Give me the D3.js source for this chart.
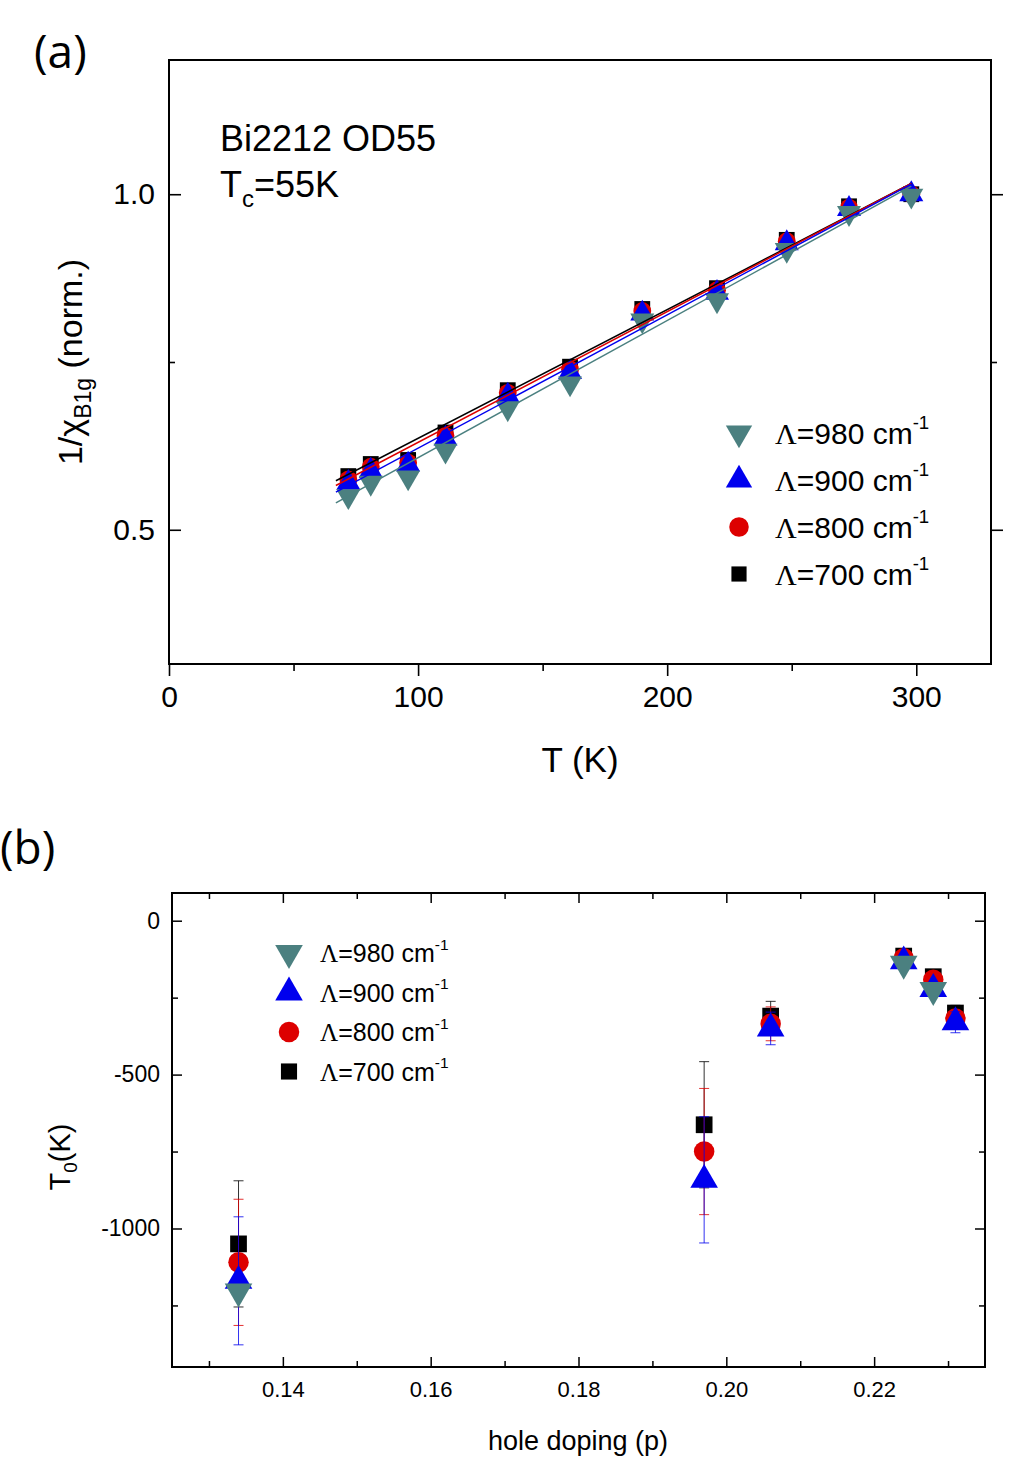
<!DOCTYPE html>
<html>
<head>
<meta charset="utf-8">
<script src="https://cdn.jsdelivr.net/npm/d3@7"></script>
<style>
  body { margin: 0; background: #fff; }
  svg { display: block; font-family: "Liberation Sans", Arial, sans-serif; }
</style>
</head>
<body>
<svg id="chart" width="1026" height="1477"></svg>
<script>
// panel (a): 1/chi_B1g vs T, four cutoffs
const tempK = [72, 81, 96, 111, 136, 161, 190, 220, 248, 273, 298];
const chi700 = [0.580, 0.598, 0.604, 0.645, 0.708, 0.743, 0.829, 0.860, 0.932, 0.982, 1.000];
const chi800 = [0.575, 0.594, 0.600, 0.640, 0.704, 0.739, 0.826, 0.857, 0.930, 0.980, 1.000];
const chi900 = [0.570, 0.588, 0.597, 0.636, 0.700, 0.735, 0.822, 0.853, 0.927, 0.978, 1.000];
const chi980 = [0.550, 0.570, 0.578, 0.618, 0.681, 0.718, 0.812, 0.842, 0.917, 0.972, 0.998];
// linear fit lines, end values
const fitT = [67, 298];
const fit700 = [0.573, 1.016];
const fit800 = [0.566, 1.016];
const fit900 = [0.556, 1.015];
const fit980 = [0.540, 1.012];
const aTicksX = [0, 100, 200, 300];
const aTicksY = [0.5, 1.0];

// panel (b): T0 vs hole doping
const doping = [0.134, 0.197, 0.206, 0.224, 0.228, 0.231];
const t0_700 = [-1050, -663, -310, -115, -182, -300];
const t0_800 = [-1110, -750, -335, -122, -192, -318];
const t0_900 = [-1170, -842, -350, -132, -222, -330];
const t0_980 = [-1205, null, null, -140, -225, null];
const err700 = [205, 205, 48, 15, 15, 25];
const err800 = [205, 205, 55, 15, 15, 25];
const err900 = [208, 205, 53, 15, 15, 34];
const bTicksX = [0.14, 0.16, 0.18, 0.20, 0.22];
const bTicksY = [0, -500, -1000];

const legendLabels = ['980', '900', '800', '700'];

const FONT = '"Liberation Sans", Arial, sans-serif';
const TEAL = '#4b8080';
const series = {
    '700': { color: '#000000', symbol: d3.symbolSquare, rot: 0 },
    '800': { color: '#dd0000', symbol: d3.symbolCircle, rot: 0 },
    '900': { color: '#0000ee', symbol: d3.symbolTriangle, rot: 0 },
    '980': { color: TEAL, symbol: d3.symbolTriangle, rot: 180 }
};

const svg = d3.select('#chart');
const hyphen = f => d => f(d).replace('\u2212', '-');

function marker(g, key, x, y, size) {
    const s = series[key];
    g.append('path')
        .attr('d', d3.symbol().type(s.symbol).size(size)())
        .attr('transform', `translate(${x},${y}) rotate(${s.rot})`)
        .attr('fill', s.color);
}

function legendEntry(g, key, x, y, fs, size, gap) {
    marker(g, key, x, y, size);
    const t = g.append('text')
        .attr('x', x + gap).attr('y', y + fs * 0.36)
        .attr('font-size', fs);
    t.append('tspan').attr('font-family', '"Liberation Serif", serif').text('\u039B');
    t.append('tspan').text('=' + key + ' cm');
    t.append('tspan').attr('font-size', fs * 0.62).attr('dy', -fs * 0.5).text('-1');
}

// ---------- panel (a) ----------
const A = { left: 169, top: 60, width: 822, height: 604 };
const xa = d3.scaleLinear().domain([0, 330]).range([A.left, A.left + A.width]);
const ya = d3.scaleLinear().domain([0.3, 1.2]).range([A.top + A.height, A.top]);
const ga = svg.append('g');

ga.append('rect')
    .attr('x', A.left).attr('y', A.top)
    .attr('width', A.width).attr('height', A.height)
    .attr('fill', 'none').attr('stroke', '#000').attr('stroke-width', 2);

// bottom axis, ticks outward
const axA = ga.append('g').attr('transform', `translate(0,${A.top + A.height})`)
    .call(d3.axisBottom(xa).tickValues(aTicksX).tickSize(12).tickPadding(10).tickFormat(d3.format('d')));
ga.append('g').attr('transform', `translate(0,${A.top + A.height})`)
    .call(d3.axisBottom(xa).tickValues([50, 150, 250]).tickSize(7).tickFormat(''));
// left axis, ticks inward
const ayA = ga.append('g').attr('transform', `translate(${A.left},0)`)
    .call(d3.axisLeft(ya).tickValues(aTicksY).tickSize(-12).tickPadding(14).tickFormat(d3.format('.1f')));
ga.append('g').attr('transform', `translate(${A.left},0)`)
    .call(d3.axisLeft(ya).tickValues([0.75]).tickSize(-6).tickFormat(''));
// right axis, ticks outward
ga.append('g').attr('transform', `translate(${A.left + A.width},0)`)
    .call(d3.axisRight(ya).tickValues(aTicksY).tickSize(12).tickFormat(''));
ga.append('g').attr('transform', `translate(${A.left + A.width},0)`)
    .call(d3.axisRight(ya).tickValues([0.75]).tickSize(6).tickFormat(''));

ga.selectAll('.domain').remove();
ga.selectAll('.tick line').attr('stroke-width', 1.6);
[axA, ayA].forEach(a => a.attr('font-family', FONT).selectAll('text').attr('font-size', 30).attr('fill', '#000'));

const aSeries = [['700', chi700, fit700], ['800', chi800, fit800], ['900', chi900, fit900], ['980', chi980, fit980]];
aSeries.forEach(([key, vals]) => {
    vals.forEach((v, i) => marker(ga, key, xa(tempK[i]), ya(v), 250));
});
aSeries.forEach(([key, vals, fv]) => {
    ga.append('line')
        .attr('x1', xa(fitT[0])).attr('y1', ya(fv[0]))
        .attr('x2', xa(fitT[1])).attr('y2', ya(fv[1]))
        .attr('stroke', series[key].color).attr('stroke-width', 1.5);
});

ga.append('text').attr('x', 220).attr('y', 151).attr('font-size', 36).text('Bi2212 OD55');
const tc = ga.append('text').attr('x', 220).attr('y', 197).attr('font-size', 36);
tc.append('tspan').text('T');
tc.append('tspan').attr('font-size', 24).attr('dy', 10).text('c');
tc.append('tspan').attr('dy', -10).text('=55K');

legendLabels.forEach((k, i) => legendEntry(ga, k, 739, 433 + i * 47, 30, k === '700' ? 230 : 300, 36));

ga.append('text').attr('x', 580).attr('y', 772).attr('text-anchor', 'middle')
    .attr('font-size', 35).text('T (K)');
const yl = ga.append('text').attr('transform', 'translate(82,362) rotate(-90)')
    .attr('text-anchor', 'middle').attr('font-size', 34);
yl.append('tspan').text('1/\u03C7');
yl.append('tspan').attr('font-size', 23).attr('dy', 9).text('B1g');
yl.append('tspan').attr('dy', -9).text(' (norm.)');

svg.append('text').attr('x', 34).attr('y', 68).attr('font-size', 46)
    .attr('font-family', '"Open Sans", sans-serif').text('(a)');

// ---------- panel (b) ----------
const B = { left: 172, top: 893, width: 813, height: 474 };
const xb = d3.scaleLinear().domain([0.125, 0.235]).range([B.left, B.left + B.width]);
const yb = d3.scaleLinear().domain([-1450, 90]).range([B.top + B.height, B.top]);
const gb = svg.append('g');

gb.append('rect')
    .attr('x', B.left).attr('y', B.top)
    .attr('width', B.width).attr('height', B.height)
    .attr('fill', 'none').attr('stroke', '#000').attr('stroke-width', 2);

const minorX = [0.13, 0.15, 0.17, 0.19, 0.21, 0.23];
const minorY = [-250, -750, -1250];
const axB = gb.append('g').attr('transform', `translate(0,${B.top + B.height})`)
    .call(d3.axisBottom(xb).tickValues(bTicksX).tickSize(-10).tickPadding(14).tickFormat(d3.format('.2f')));
gb.append('g').attr('transform', `translate(0,${B.top + B.height})`)
    .call(d3.axisBottom(xb).tickValues(minorX).tickSize(-6).tickFormat(''));
gb.append('g').attr('transform', `translate(0,${B.top})`)
    .call(d3.axisTop(xb).tickValues(bTicksX).tickSize(-10).tickFormat(''));
gb.append('g').attr('transform', `translate(0,${B.top})`)
    .call(d3.axisTop(xb).tickValues(minorX).tickSize(-6).tickFormat(''));
const ayB = gb.append('g').attr('transform', `translate(${B.left},0)`)
    .call(d3.axisLeft(yb).tickValues(bTicksY).tickSize(-10).tickPadding(12).tickFormat(hyphen(d3.format('d'))));
gb.append('g').attr('transform', `translate(${B.left},0)`)
    .call(d3.axisLeft(yb).tickValues(minorY).tickSize(-6).tickFormat(''));
gb.append('g').attr('transform', `translate(${B.left + B.width},0)`)
    .call(d3.axisRight(yb).tickValues(bTicksY).tickSize(-10).tickFormat(''));
gb.append('g').attr('transform', `translate(${B.left + B.width},0)`)
    .call(d3.axisRight(yb).tickValues(minorY).tickSize(-6).tickFormat(''));

gb.selectAll('.domain').remove();
gb.selectAll('.tick line').attr('stroke-width', 1.5);
axB.attr('font-family', FONT).selectAll('text').attr('font-size', 22).attr('fill', '#000');
ayB.attr('font-family', FONT).selectAll('text').attr('font-size', 23).attr('fill', '#000');

const bSeries = [['700', t0_700, err700], ['800', t0_800, err800], ['900', t0_900, err900], ['980', t0_980, null]];
bSeries.forEach(([key, vals, errs]) => {
    vals.forEach((v, i) => {
        if (v == null) return;
        marker(gb, key, xb(doping[i]), yb(v), key === '700' ? 280 : 330);
    });
    if (!errs) return;
    vals.forEach((v, i) => {
        if (v == null) return;
        const x = xb(doping[i]);
        const c = series[key].color;
        gb.append('line').attr('x1', x).attr('x2', x)
            .attr('y1', yb(v - errs[i])).attr('y2', yb(v + errs[i]))
            .attr('stroke', c).attr('stroke-width', 1).attr('opacity', 0.8);
        [v - errs[i], v + errs[i]].forEach(e => {
            gb.append('line').attr('x1', x - 5).attr('x2', x + 5)
                .attr('y1', yb(e)).attr('y2', yb(e))
                .attr('stroke', c).attr('stroke-width', 1).attr('opacity', 0.8);
        });
    });
});

legendLabels.forEach((k, i) => legendEntry(gb, k, 289, 953 + i * 39.5, 25, k === '700' ? 260 : 330, 31));

gb.append('text').attr('x', 578).attr('y', 1450).attr('text-anchor', 'middle')
    .attr('font-size', 27).text('hole doping (p)');
const yl2 = gb.append('text').attr('transform', 'translate(70,1157) rotate(-90)')
    .attr('text-anchor', 'middle').attr('font-size', 29);
yl2.append('tspan').text('T');
yl2.append('tspan').attr('font-size', 19).attr('dy', 7).text('0');
yl2.append('tspan').attr('dy', -7).text('(K)');

svg.append('text').attr('x', 0).attr('y', 864).attr('font-size', 46)
    .attr('font-family', '"Open Sans", sans-serif').text('(b)');
</script>
</body>
</html>
